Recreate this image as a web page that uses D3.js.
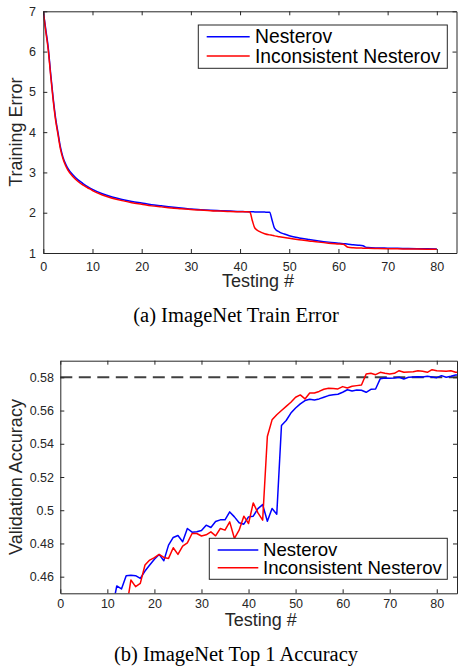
<!DOCTYPE html>
<html>
<head>
<meta charset="utf-8">
<script src="https://cdn.jsdelivr.net/npm/d3@7"></script>
<style>
  html, body { margin: 0; padding: 0; background: #fff; }
  svg { display: block; font-family: "Liberation Sans", Arial, Helvetica, sans-serif; }
  .axis path, .axis line { stroke: #262626; }
  .axis text { fill: #262626; font-size: 12.5px; font-family: "Liberation Sans", Arial, sans-serif; }
  .axis-label { fill: #262626; font-size: 18px; }
  .caption { font-family: "Liberation Serif", "Times New Roman", serif; font-size: 20.5px; fill: #000; }
  .legend-text { fill: #000; }
</style>
</head>
<body>
<svg id="chart" width="458" height="666"></svg>
<script>
// ---- data: (a) ImageNet train error ----
const trainSteps = [0, 0.5, 1, 1.5, 2, 2.5, 3, 3.5, 4, 4.5, 5,
  6, 7, 8, 9, 10,
  12, 14, 16, 18, 20, 22, 24, 26, 28, 30, 32, 34, 36, 38, 40,
  41, 42, 42.5, 43, 44, 45, 46, 46.5, 47, 48, 49, 50,
  52, 54, 56, 58, 60,
  61, 62, 63, 64, 65, 65.5, 66,
  68, 70, 72, 74, 76, 78, 80];
const trainNesterov = [7.0, 6.55, 6.1, 5.45, 4.85, 4.35, 3.98, 3.62, 3.38, 3.22, 3.1,
  2.94, 2.82, 2.73, 2.65, 2.58,
  2.47, 2.39, 2.33, 2.28, 2.24, 2.2, 2.17, 2.14, 2.115, 2.095, 2.075, 2.06, 2.05, 2.04, 2.03,
  2.027, 2.025, 2.023, 2.02, 2.018, 2.015, 2.01, 1.82, 1.62, 1.52, 1.47, 1.43,
  1.375, 1.335, 1.30, 1.27, 1.245,
  1.232, 1.22, 1.205, 1.195, 1.18, 1.145, 1.135,
  1.125, 1.12, 1.115, 1.11, 1.106, 1.103, 1.10];
const trainInconsistent = [7.0, 6.5, 6.05, 5.4, 4.8, 4.3, 3.93, 3.57, 3.34, 3.18, 3.06,
  2.9, 2.78, 2.69, 2.62, 2.55,
  2.44, 2.36, 2.30, 2.25, 2.21, 2.17, 2.145, 2.12, 2.10, 2.08, 2.065, 2.05, 2.04, 2.03, 2.025,
  2.022, 2.015, 1.80, 1.62, 1.53, 1.48, 1.45, 1.44, 1.425, 1.405, 1.385, 1.365,
  1.33, 1.30, 1.27, 1.245, 1.225,
  1.215, 1.14, 1.13, 1.125, 1.12, 1.118, 1.116,
  1.112, 1.108, 1.104, 1.10, 1.098, 1.095, 1.092];

// ---- data: (b) ImageNet top-1 validation accuracy ----
const accStepsNesterov = d3.range(11, 86);
const accNesterov = [0.440, 0.4544, 0.4526, 0.4606, 0.4608, 0.4606, 0.459, 0.4634, 0.467, 0.4705,
  0.4734, 0.4696, 0.479, 0.4836, 0.4848, 0.481, 0.489, 0.4868, 0.487, 0.4878,
  0.491, 0.4896, 0.4932, 0.4942, 0.4942, 0.499, 0.496, 0.4925, 0.4916, 0.496,
  0.4964, 0.501, 0.5034, 0.4934, 0.501, 0.4976, 0.551, 0.554, 0.5585, 0.5615,
  0.564, 0.566, 0.5668, 0.5664, 0.567, 0.568, 0.569, 0.5695, 0.5698, 0.571,
  0.5725, 0.5718, 0.5724, 0.5722, 0.571, 0.5728, 0.573, 0.5792, 0.5796, 0.5795,
  0.5796, 0.58, 0.579, 0.58, 0.5802, 0.5804, 0.5802, 0.5806, 0.5802, 0.5798,
  0.581, 0.58, 0.5806, 0.5814, 0.5812];
const accStepsInconsistent = d3.range(14, 86);
const accInconsistent = [0.440, 0.458, 0.454, 0.456, 0.467, 0.470, 0.4715,
  0.4734, 0.4716, 0.471, 0.4774, 0.4734, 0.4784, 0.4804, 0.486, 0.486, 0.4845,
  0.4852, 0.487, 0.4846, 0.489, 0.488, 0.493, 0.483, 0.488, 0.4964, 0.492,
  0.5044, 0.4984, 0.494, 0.5444, 0.5544, 0.5575, 0.560, 0.5625, 0.565, 0.568,
  0.5694, 0.567, 0.5706, 0.5706, 0.5715, 0.5728, 0.5734, 0.5732, 0.573, 0.5744,
  0.5736, 0.5746, 0.575, 0.5754, 0.582, 0.5824, 0.5816, 0.583, 0.5824, 0.582,
  0.5824, 0.584, 0.583, 0.5832, 0.5834, 0.584, 0.5836, 0.583, 0.5846, 0.584,
  0.5838, 0.5836, 0.584, 0.583, 0.5832];
const accTarget = 0.58;

const seriesNames = ["Nesterov", "Inconsistent Nesterov"];
const seriesColors = ["#0000ff", "#ff0000"];
const xTicks = [0, 10, 20, 30, 40, 50, 60, 70, 80];
const trainYTicks = [1, 2, 3, 4, 5, 6, 7];
const accYTicks = [0.46, 0.48, 0.5, 0.52, 0.54, 0.56, 0.58];

const svg = d3.select("#chart");

function drawPanel(opt) {
  const g = svg.append("g");
  const x = d3.scaleLinear().domain(opt.xDomain).range([opt.left, opt.right]);
  const y = d3.scaleLinear().domain(opt.yDomain).range([opt.bottom, opt.top]);

  g.append("clipPath").attr("id", opt.id + "-clip")
    .append("rect")
    .attr("x", opt.left).attr("y", opt.top)
    .attr("width", opt.right - opt.left).attr("height", opt.bottom - opt.top);

  // reference line, drawn under the curves
  if (opt.hline !== undefined) {
    g.append("line")
      .attr("x1", opt.left).attr("x2", opt.right)
      .attr("y1", y(opt.hline)).attr("y2", y(opt.hline))
      .attr("stroke", "#404040").attr("stroke-width", 2)
      .attr("stroke-dasharray", "12,6.5");
  }

  const line = d3.line().x(d => x(d[0])).y(d => y(d[1]));
  if (opt.curve) line.curve(opt.curve);
  const lines = g.append("g").attr("clip-path", `url(#${opt.id}-clip)`);
  opt.series.forEach((s, i) => {
    lines.append("path")
      .datum(d3.zip(s.x, s.y))
      .attr("fill", "none")
      .attr("stroke", seriesColors[i])
      .attr("stroke-width", 1.5)
      .attr("stroke-linejoin", "round")
      .attr("d", line);
  });

  // axes (ticks point inward, box all round)
  g.append("g").attr("class", "axis")
    .attr("transform", `translate(0,${opt.bottom})`)
    .call(d3.axisBottom(x).tickValues(xTicks).tickFormat(d3.format("d"))
      .tickSizeInner(-4).tickSizeOuter(0).tickPadding(opt.xPad))
    .call(a => a.selectAll("text").style("font-size", opt.tickFont + "px"));
  g.append("g").attr("class", "axis")
    .attr("transform", `translate(0,${opt.top})`)
    .call(d3.axisTop(x).tickValues(xTicks).tickFormat("")
      .tickSizeInner(-4).tickSizeOuter(0));
  g.append("g").attr("class", "axis")
    .attr("transform", `translate(${opt.left},0)`)
    .call(d3.axisLeft(y).tickValues(opt.yTicks).tickFormat(opt.yFormat)
      .tickSizeInner(-4).tickSizeOuter(0).tickPadding(opt.yPad))
    .call(a => a.selectAll("text").style("font-size", opt.tickFont + "px"));
  g.append("g").attr("class", "axis")
    .attr("transform", `translate(${opt.right},0)`)
    .call(d3.axisRight(y).tickValues(opt.yTicks).tickFormat("")
      .tickSizeInner(-4).tickSizeOuter(0));

  g.append("text").attr("class", "axis-label")
    .attr("x", (opt.left + opt.right) / 2 + opt.xLabelShift)
    .attr("y", opt.xLabelY)
    .attr("text-anchor", "middle")
    .text("Testing #");
  g.append("text").attr("class", "axis-label")
    .attr("transform", `translate(${opt.yLabelX},${(opt.top + opt.bottom) / 2}) rotate(-90)`)
    .attr("text-anchor", "middle")
    .text(opt.yLabel);

  // legend
  const lg = opt.legend;
  const leg = g.append("g");
  leg.append("rect")
    .attr("x", lg.x0).attr("y", lg.y0)
    .attr("width", lg.x1 - lg.x0).attr("height", lg.y1 - lg.y0)
    .attr("fill", "#fff").attr("stroke", "#262626").attr("stroke-width", 1);
  seriesNames.forEach((name, i) => {
    const ly = lg.rows[i];
    leg.append("line")
      .attr("x1", lg.lineX0).attr("x2", lg.lineX1)
      .attr("y1", ly).attr("y2", ly)
      .attr("stroke", seriesColors[i]).attr("stroke-width", 1.5);
    leg.append("text").attr("class", "legend-text")
      .attr("x", lg.textX).attr("y", ly + lg.baseShift)
      .style("font-size", lg.font + "px")
      .text(name);
  });

  svg.append("text").attr("class", "caption")
    .attr("x", 236).attr("y", opt.captionY)
    .attr("text-anchor", "middle")
    .text(opt.caption);
}

drawPanel({
  id: "train",
  left: 43.3, right: 456.5, top: 11.3, bottom: 253,
  xDomain: [0, 84], yDomain: [1, 7],
  yTicks: trainYTicks, yFormat: d3.format("d"),
  tickFont: 12.5, xPad: 8.8, yPad: 7.3,
  curve: d3.curveMonotoneX,
  series: [
    { x: trainSteps, y: trainNesterov },
    { x: trainSteps, y: trainInconsistent }
  ],
  xLabelY: 287, xLabelShift: 8,
  yLabelX: 21.5, yLabel: "Training Error",
  legend: { x0: 198.3, x1: 447.3, y0: 25, y1: 68.3,
    lineX0: 206.7, lineX1: 249.7, textX: 255,
    rows: [36.7, 56], baseShift: 6.6, font: 19.3 },
  captionY: 322, caption: "(a) ImageNet Train Error"
});

drawPanel({
  id: "acc",
  left: 60.3, right: 457, top: 360.7, bottom: 593.3,
  xDomain: [0, 84.3], yDomain: [0.45, 0.59],
  yTicks: accYTicks, yFormat: d => d3.format(".2f")(d).replace(/0+$/, ""),
  tickFont: 12.5, xPad: 6.1, yPad: 6.3,
  hline: accTarget,
  series: [
    { x: accStepsNesterov, y: accNesterov },
    { x: accStepsInconsistent, y: accInconsistent }
  ],
  xLabelY: 625.5, xLabelShift: 2,
  yLabelX: 21.5, yLabel: "Validation Accuracy",
  legend: { x0: 209.3, x1: 447.3, y0: 538.3, y1: 579.3,
    lineX0: 217.7, lineX1: 258.3, textX: 263,
    rows: [550, 567.7], baseShift: 6.3, font: 18.6 },
  captionY: 661, caption: "(b) ImageNet Top 1 Accuracy"
});
</script>
</body>
</html>
